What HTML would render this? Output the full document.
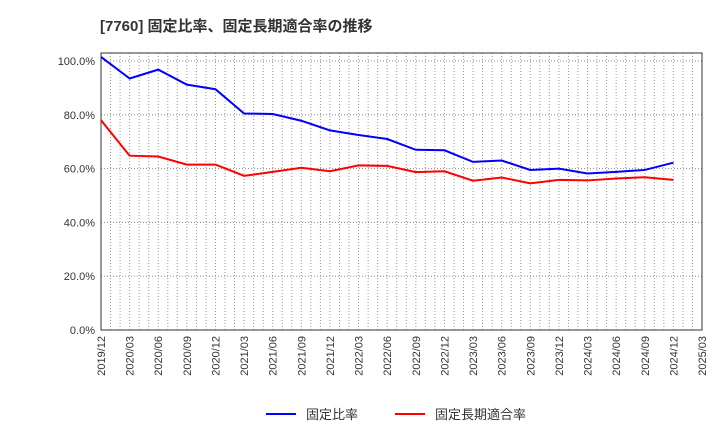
<!DOCTYPE html>
<html><head><meta charset="utf-8"><style>
body{margin:0;background:#fff;font-family:"Liberation Sans","Noto Sans CJK JP",sans-serif;}
svg text{font-family:"Liberation Sans","Noto Sans CJK JP",sans-serif;}
</style></head><body>
<svg id="c" width="720" height="440">
<text x="100" y="31" font-size="15" font-weight="bold" fill="#333">[7760]  固定比率、固定長期適合率の推移</text>
<g id="grid"></g><g id="axes"></g><g id="series"></g>
<g>
<line x1="266" y1="414" x2="296" y2="414" stroke="#0000ff" stroke-width="2"/>
<text x="306" y="419" font-size="13" fill="#333">固定比率</text>
<line x1="395" y1="414" x2="425" y2="414" stroke="#ff0000" stroke-width="2"/>
<text x="435" y="419" font-size="13" fill="#333">固定長期適合率</text>
</g>
</svg>
<script>
const categories=["2019/12","2020/03","2020/06","2020/09","2020/12","2021/03","2021/06","2021/09","2021/12","2022/03","2022/06","2022/09","2022/12","2023/03","2023/06","2023/09","2023/12","2024/03","2024/06","2024/09","2024/12","2025/03"];
const fixedRatio=[101.5,93.5,96.8,91.2,89.5,80.5,80.3,77.8,74.2,72.5,71.0,67.0,66.8,62.5,63.0,59.5,60.0,58.2,58.8,59.5,62.2];
const fixedLongTermRatio=[78.0,64.8,64.5,61.5,61.5,57.3,58.8,60.3,59.0,61.2,61.0,58.7,59.0,55.5,56.7,54.5,55.8,55.6,56.3,56.8,55.8];
const yTicks=[0,20,40,60,80,100];
const ns="http://www.w3.org/2000/svg";
const L=101,R=702,T=53,B=330;
const x=i=>L+(R-L)*i/(categories.length-1);
const y=v=>B-(B-61)*v/100;
function mk(tag,attrs,parent){const e=document.createElementNS(ns,tag);for(const k in attrs)e.setAttribute(k,attrs[k]);parent.appendChild(e);return e;}
const grid=document.getElementById('grid'),axes=document.getElementById('axes'),series=document.getElementById('series');
for(let j=1;j<(categories.length-1)*3;j++){const xx=L+(R-L)*j/((categories.length-1)*3);
const l=mk('line',{x1:xx,x2:xx,y1:T,y2:B,stroke:'#999','stroke-dasharray':'1,2','stroke-width':1},grid);
}
yTicks.forEach(v=>{if(v>0){const l=mk('line',{x1:L,x2:R,y1:y(v),y2:y(v),stroke:'#888','stroke-dasharray':'1,2'},grid);
}
const t=mk('text',{x:L-6,y:y(v)+4,'font-size':11,fill:'#333','text-anchor':'end'},axes);t.textContent=v.toFixed(1)+'%';
});
const box=mk('rect',{x:L,y:T,width:R-L,height:B-T,fill:'none',stroke:'#333'},axes);

categories.forEach((c,i)=>{const t=mk('text',{x:0,y:0,'font-size':11,fill:'#333','text-anchor':'end',transform:`translate(${x(i)+4},${B+6}) rotate(-90)`},axes);t.textContent=c;
});
function line(arr,color,name){const p=mk('polyline',{points:arr.map((v,i)=>x(i)+','+y(v)).join(' '),fill:'none',stroke:color,'stroke-width':2},series);
}
line(fixedRatio,'#0000ff','fixed-ratio-line');
line(fixedLongTermRatio,'#ff0000','fixed-long-term-ratio-line');
</script>
</body></html>
